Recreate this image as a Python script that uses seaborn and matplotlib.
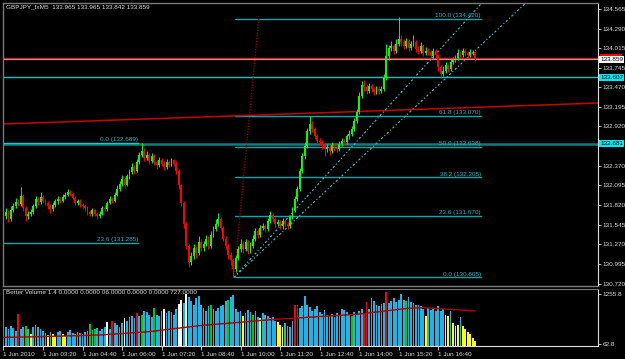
import numpy as np
import pandas as pd
import matplotlib
matplotlib.use("Agg")
import matplotlib.pyplot as plt
import matplotlib.transforms as mtransforms
from matplotlib.patches import Rectangle
import seaborn as sns

# ---------------- data ----------------
symbol_header = "GBPJPY_fxM5  133.965 133.965 133.842 133.859"
volume_header = "Better Volume 1.4 0.0000 0.0000 06.0000 0.0000 0.0000 727.0000"

first_open = 131.60
closes = [
    131.66, 131.72, 131.62, 131.75, 131.80, 131.86, 131.83, 131.95, 131.78, 131.66,
    131.70, 131.72, 131.80, 131.90, 131.86, 131.93, 131.88, 131.85, 131.80, 131.76,
    131.82, 131.87, 131.90, 131.88, 131.93, 131.96, 132.00, 131.97, 131.92, 131.85,
    131.88, 131.82, 131.80, 131.78, 131.72, 131.70, 131.75, 131.69, 131.66, 131.70,
    131.78, 131.76, 131.85, 131.90, 131.88, 131.96, 132.05, 132.12, 132.18, 132.10,
    132.22, 132.28, 132.35, 132.30, 132.42, 132.52, 132.58, 132.48, 132.52, 132.44,
    132.50, 132.42, 132.38, 132.45, 132.40, 132.35, 132.42, 132.38, 132.45, 132.40,
    132.30, 132.10, 131.85, 131.55, 131.25, 131.02, 131.10, 131.22, 131.15, 131.30,
    131.22, 131.28, 131.35, 131.25, 131.40, 131.48, 131.55, 131.62, 131.50, 131.35,
    131.25, 131.12, 131.05, 130.92, 131.08, 131.20, 131.28, 131.20, 131.30, 131.18,
    131.25, 131.35, 131.45, 131.40, 131.50, 131.52, 131.48, 131.60, 131.68, 131.62,
    131.55, 131.58, 131.52, 131.60, 131.55, 131.52, 131.65, 131.75, 131.90, 132.05,
    132.30, 132.50, 132.65, 132.85, 132.95, 132.88, 132.78, 132.72, 132.70, 132.66,
    132.60, 132.63, 132.58, 132.66, 132.62, 132.60, 132.68, 132.72, 132.70, 132.78,
    132.82, 132.88, 133.00, 133.12, 133.35, 133.50, 133.47, 133.42, 133.48, 133.44,
    133.40, 133.45, 133.42, 133.44, 133.60, 133.90, 134.02, 134.05, 133.98, 134.08,
    134.15, 134.10, 134.05, 134.12, 134.02, 134.08, 134.10, 134.00, 133.98, 134.05,
    133.95, 133.98, 133.96, 133.90, 133.98, 133.92, 133.75, 133.65, 133.70, 133.78,
    133.72, 133.82, 133.85, 133.88, 133.95, 133.92, 133.98, 133.95, 133.92, 133.96,
    133.965, 133.859]
highs = [
    131.70, 131.78, 131.75, 131.80, 131.85, 131.92, 131.90, 132.07, 131.98, 131.80,
    131.74, 131.76, 131.84, 131.94, 131.93, 132.00, 131.96, 131.91, 131.88, 131.83,
    131.86, 131.91, 131.95, 131.93, 131.97, 132.00, 132.04, 132.03, 132.00, 131.94,
    131.91, 131.90, 131.85, 131.83, 131.80, 131.75, 131.78, 131.77, 131.72, 131.74,
    131.81, 131.82, 131.88, 131.94, 131.93, 132.00, 132.10, 132.16, 132.24, 132.21,
    132.26, 132.33, 132.41, 132.38, 132.46, 132.56, 132.69, 132.62, 132.57, 132.55,
    132.55, 132.53, 132.45, 132.49, 132.48, 132.43, 132.46, 132.45, 132.48, 132.47,
    132.43, 132.32, 132.12, 131.88, 131.58, 131.28, 131.16, 131.27, 131.25, 131.38,
    131.34, 131.32, 131.40, 131.38, 131.45, 131.53, 131.62, 131.71, 131.65, 131.53,
    131.38, 131.28, 131.16, 131.08, 131.12, 131.25, 131.34, 131.31, 131.35, 131.33,
    131.30, 131.40, 131.50, 131.48, 131.54, 131.57, 131.55, 131.64, 131.73, 131.71,
    131.65, 131.63, 131.61, 131.64, 131.63, 131.58, 131.68, 131.79, 131.94, 132.09,
    132.34, 132.55, 132.70, 132.90, 133.07, 132.99, 132.91, 132.81, 132.76, 132.73,
    132.69, 132.68, 132.66, 132.70, 132.69, 132.66, 132.72, 132.76, 132.75, 132.82,
    132.87, 132.92, 133.04, 133.17, 133.40, 133.55, 133.57, 133.52, 133.53, 133.51,
    133.47, 133.49, 133.48, 133.48, 133.66, 134.08, 134.06, 134.12, 134.08, 134.15,
    134.45, 134.20, 134.14, 134.16, 134.15, 134.12, 134.20, 134.13, 134.04, 134.10,
    134.08, 134.03, 134.02, 133.99, 134.02, 134.00, 133.94, 133.78, 133.76, 133.82,
    133.80, 133.86, 133.89, 133.92, 134.00, 133.98, 134.02, 134.00, 133.98, 134.00,
    133.99, 133.965]
lows = [
    131.55, 131.63, 131.58, 131.60, 131.72, 131.78, 131.80, 131.81, 131.74, 131.60,
    131.63, 131.67, 131.70, 131.78, 131.82, 131.84, 131.85, 131.82, 131.77, 131.71,
    131.73, 131.79, 131.84, 131.85, 131.86, 131.90, 131.94, 131.94, 131.89, 131.82,
    131.82, 131.79, 131.76, 131.74, 131.68, 131.66, 131.67, 131.66, 131.63, 131.64,
    131.68, 131.73, 131.74, 131.83, 131.85, 131.86, 131.94, 132.02, 132.08, 132.06,
    132.08, 132.19, 132.25, 132.26, 132.28, 132.40, 132.49, 132.44, 132.45, 132.40,
    132.41, 132.38, 132.33, 132.35, 132.36, 132.31, 132.32, 132.35, 132.36, 132.37,
    132.26, 132.05, 131.80, 131.50, 131.20, 130.95, 130.98, 131.07, 131.08, 131.12,
    131.18, 131.18, 131.25, 131.20, 131.22, 131.37, 131.45, 131.52, 131.46, 131.31,
    131.20, 131.07, 130.98, 130.805, 130.88, 131.05, 131.16, 131.15, 131.17, 131.14,
    131.15, 131.22, 131.32, 131.36, 131.37, 131.47, 131.44, 131.46, 131.57, 131.58,
    131.51, 131.52, 131.48, 131.49, 131.51, 131.49, 131.50, 131.62, 131.72, 131.87,
    132.02, 132.27, 132.47, 132.62, 132.82, 132.84, 132.74, 132.68, 132.66, 132.60,
    132.50, 132.56, 132.52, 132.55, 132.58, 132.56, 132.57, 132.65, 132.66, 132.67,
    132.75, 132.79, 132.85, 132.97, 133.10, 133.32, 133.42, 133.37, 133.39, 133.40,
    133.36, 133.37, 133.38, 133.39, 133.41, 133.57, 133.85, 133.98, 133.94, 133.95,
    134.05, 134.05, 134.00, 134.02, 133.98, 133.99, 134.04, 133.96, 133.93, 133.95,
    133.90, 133.92, 133.92, 133.86, 133.87, 133.88, 133.70, 133.60, 133.62, 133.67,
    133.68, 133.70, 133.79, 133.82, 133.85, 133.88, 133.89, 133.91, 133.88, 133.89,
    133.92, 133.842]
opens = [first_open] + closes[:-1]

volumes = [
    520, 480, 430, 500, 450, 380, 780, 420, 460, 500,
    420, 300, 460, 520, 480, 420, 380, 330, 280, 350,
    300, 250, 340, 380, 290, 260, 350, 400, 330, 300,
    360, 320, 300, 340, 380, 550, 400, 420, 450, 380,
    420, 480, 580, 420, 600, 560, 520, 480, 560, 680,
    620, 700, 740, 680, 800, 720, 760, 860, 820, 760,
    700, 920, 760, 720, 840, 900, 800, 860, 820, 760,
    900, 1020, 1120, 1050, 1260, 1180, 1100, 1000, 1150, 1200,
    1000, 920, 860, 980, 1000, 900, 860, 920, 960, 1000,
    1080, 1120, 1180, 1220, 900, 820, 860, 740, 800, 880,
    820, 760, 860, 700, 680, 800, 760, 720, 680, 700,
    620, 580, 520, 480, 560, 500, 480, 620, 1000, 1000,
    920, 980, 1200, 1000, 940, 860, 900, 960, 820, 780,
    880, 760, 720, 780, 700, 800, 740, 900, 880, 820,
    760, 720, 820, 780, 860, 900, 800, 1060, 900, 1150,
    1080, 1000, 980, 1020, 1050, 1300, 1050, 1100, 1150, 1060,
    1120, 1250, 1120, 1100, 1180, 1060, 1040, 1000, 1000, 960,
    900, 740, 920, 880, 900, 860, 960, 860, 900, 760,
    720, 840, 560, 500, 520, 700, 500, 420, 360, 300,
    200, 140]
volume_kinds = ("ccccccrccg" "cyccccccyc" "yyccyycccc" "cccccgcgcc" "ccwcrccccw"
                "ccccrcgccc" "cgcccwcccc" "cwwcwccccc" "ccccgccccc" "cgcccccycc"
                "cgccyccccc" "cyyyccccrr" "cccccccccc" "cccccccccc" "cgccccrrcc"
                "cccccrcccc" "cccgcccccc" "cycccccccy" "ycyyycyyyy" "yy")
ma_bars = [0, 13, 39, 59, 79, 110, 143, 164, 170, 191]
ma_values = [223, 235, 278, 356, 499, 652, 771, 915, 930, 850]

price_ticks = [134.565, 134.290, 134.015, 133.745, 133.470, 133.195, 132.920, 132.645,
               132.370, 132.095, 131.820, 131.545, 131.270, 130.995, 130.720]
time_tick_bars = [0, 16, 32, 48, 64, 80, 96, 112, 128, 144, 160, 176]
time_tick_labels = ["1 Jun 2010", "1 Jun 03:20", "1 Jun 04:40", "1 Jun 06:00", "1 Jun 07:20",
                    "1 Jun 08:40", "1 Jun 10:00", "1 Jun 11:20", "1 Jun 12:40", "1 Jun 14:00",
                    "1 Jun 15:20", "1 Jun 16:40"]

fib_right_levels = [134.420, 133.070, 132.638, 132.205, 131.670, 130.805]
fib_right_names = ["100.0", "61.8", "50.0", "38.2", "23.6", "0.0"]
fib_left_levels = [132.689, 131.285]
fib_left_names = ["0.0", "23.6"]
hline_cyan = 133.607
hline_teal = 132.681
bid_price = 133.859
ask_price = 133.885
red_trend = [(-0.2, 132.954), (240.7, 133.248)]
red_dotted = [(93.3, 130.805), (103.4, 134.45)]
cyan_trend_a = [(93.3, 130.805), (195.0, 134.70)]
cyan_trend_b = [(93.3, 130.805), (213.0, 134.70)]

# ---------------- style ----------------
sns.set_style("dark", {"axes.facecolor": "black", "figure.facecolor": "black",
                       "axes.grid": False})
plt.rcParams["font.family"] = ["Liberation Sans", "DejaVu Sans"]

W, H = 625, 359
fig = plt.figure(figsize=(W / 100, H / 100), dpi=100, facecolor="black")


def rect(x0, y0, x1, y1):
    return [x0 / W, 1 - y1 / H, (x1 - x0) / W, (y1 - y0) / H]


ax = fig.add_axes(rect(3, 3, 598, 286))
axv = fig.add_axes(rect(3, 289, 598, 346))
XL = (-0.2, 240.7)
FS = 4.6
txtc = "#D8D8D8"

# ---------------- main price panel ----------------
ax.set_facecolor("black")
idx = np.arange(len(closes))
o = np.array(opens); c = np.array(closes)
up = c >= o
cols = np.where(up, "#00FF00", "#FF0000")

ax.axhline(hline_cyan, color="#00C8C8", lw=1.0, zorder=1)
ax.axhline(hline_teal, color="#0B7F80", lw=1.8, zorder=1)
ax.plot([XL[0], 54.5], [fib_left_levels[0]] * 2, color="#00D0D8", lw=1.0, zorder=1.2)
ax.plot([XL[0], 54.5], [fib_left_levels[1]] * 2, color="#00A8B0", lw=1.0, zorder=1.2)
for lv, nm in zip(fib_left_levels, fib_left_names):
    ax.text(54.5, lv + 0.012, f"{nm} ({lv:.3f})", color="#20B8C0", fontsize=FS,
            ha="right", va="bottom")
for lv, nm in zip(fib_right_levels, fib_right_names):
    ax.plot([93.7, 193.3], [lv, lv], color="#00A8B0", lw=1.0, zorder=1.2)
    ax.text(193.3, lv + 0.012, f"{nm} ({lv:.3f})", color="#20B8C0", fontsize=FS,
            ha="right", va="bottom")
ax.plot(*zip(*red_trend), color="#C80000", lw=1.1, zorder=1.3)
ax.plot(*zip(*red_dotted), color="#B00000", lw=0.9, ls=(0, (1, 1.2)), zorder=1.3)
ax.plot(*zip(*cyan_trend_a), color="#30C8D0", lw=0.8, ls=(0, (2, 2, 1, 2)), zorder=1.3)
ax.plot(*zip(*cyan_trend_b), color="#30C8D0", lw=0.8, ls=(0, (2, 2, 1, 2)), zorder=1.3)
ax.axhline(ask_price, color="#FF0000", lw=1.0, zorder=1.4)
ax.axhline(bid_price, color="#A0A0A0", lw=0.9, zorder=1.4)

# candles
ax.vlines(idx, lows, highs, colors=cols, lw=0.7, zorder=2)
ax.bar(idx, np.where(np.abs(c - o) < 0.008, 0.008, c - o), bottom=o, width=0.75,
       color=cols, linewidth=0, zorder=2.1)

ax.set_xlim(*XL)
ax.set_ylim(130.685, 134.649)
ax.set_xticks([])
ax.yaxis.tick_right()
ax.set_yticks(price_ticks)
# the 132.645 label is hidden behind the 132.681 line box in the reference
ax.set_yticklabels(["" if abs(v - 132.645) < 1e-6 else f"{v:.3f}" for v in price_ticks])
ax.tick_params(axis="y", colors=txtc, labelsize=FS, length=2, width=0.6, pad=1.5, right=True)
for s in ["left", "top", "bottom"]:
    ax.spines[s].set_color("#7A7A7A")
    ax.spines[s].set_linewidth(1.0)
ax.spines["right"].set_color("#E0E0E0")
ax.spines["right"].set_linewidth(0.8)
ax.grid(False)

bt = mtransforms.blended_transform_factory(ax.transAxes, ax.transData)
# red ask box peeking out above the white bid box
ax.add_patch(Rectangle((1.004, ask_price - 0.005), 0.037, 0.05, transform=bt,
                       facecolor="#FF0000", edgecolor="none", clip_on=False, zorder=9))
for val, fc, tc in [(bid_price, "white", "black"),
                    (hline_cyan, "#00E8F0", "black"), (hline_teal, "#00E8F0", "black")]:
    ax.text(1.004, val, f"{val:.3f}", transform=bt, fontsize=FS, color=tc, va="center",
            ha="left", clip_on=False, zorder=10,
            bbox=dict(boxstyle="square,pad=0.15", fc=fc, ec="none"))

# ---------------- volume panel ----------------
axv.set_facecolor("black")
vdf = pd.DataFrame({"bar": np.arange(len(volumes)), "volume": volumes,
                    "kind": list(volume_kinds)})
pal = {"c": "#1EB4E6", "r": "#FF0000", "w": "#FFFFFF", "g": "#00D000", "y": "#FFFF00"}
sns.barplot(data=vdf, x="bar", y="volume", hue="kind", palette=pal, native_scale=True,
            dodge=False, width=0.72, errorbar=None, legend=False, linewidth=0,
            saturation=1, ax=axv, zorder=2)
sns.lineplot(x=ma_bars, y=ma_values, color="#B00000", lw=1.0, ax=axv, zorder=3)
axv.set_xlim(*XL)
axv.set_ylim(15, 1375)
axv.set_xlabel(""); axv.set_ylabel("")
axv.yaxis.tick_right()
axv.set_yticks([1255.8, 62.8])
axv.set_yticklabels(["1255.8", "62.8"])
axv.tick_params(axis="y", colors=txtc, labelsize=FS, length=2, width=0.6, pad=1.5, right=True)
axv.set_xticks(time_tick_bars)
axv.set_xticklabels(time_tick_labels)
axv.tick_params(axis="x", colors=txtc, labelsize=FS, length=3, width=0.6, pad=1.0, bottom=True)
for lbl in axv.get_xticklabels():
    lbl.set_ha("left")
for s in ["left", "top"]:
    axv.spines[s].set_color("#7A7A7A")
axv.spines["right"].set_color("#E0E0E0"); axv.spines["right"].set_linewidth(0.8)
axv.spines["bottom"].set_color("#E0E0E0"); axv.spines["bottom"].set_linewidth(0.8)
axv.grid(False)

fig.text(6 / W, 1 - 7 / H, symbol_header, color=txtc, fontsize=FS, va="center", ha="left")
fig.text(6 / W, 1 - 293 / H, volume_header, color=txtc, fontsize=FS, va="center", ha="left")

fig.savefig("out.png", dpi=100, facecolor="black")
